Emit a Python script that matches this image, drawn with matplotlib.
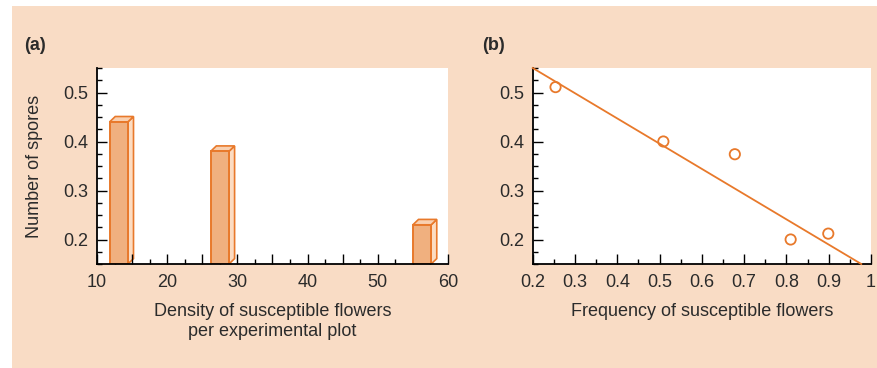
import matplotlib
matplotlib.use("Agg")
import matplotlib.pyplot as plt
from matplotlib.patches import Rectangle, Polygon
from matplotlib.ticker import MultipleLocator

plt.rcParams['font.family'] = ['Liberation Sans', 'DejaVu Sans']

# panel (a) data
density = [13.1, 27.5, 56.3]
spores_a = [0.44, 0.38, 0.23]
xticks_a = [10, 15, 20, 25, 30, 35, 40, 45, 50, 55, 60]
xlabels_a = ['10', '', '20', '', '30', '', '40', '', '50', '', '60']

# panel (b) data
frequency = [0.254, 0.509, 0.678, 0.81, 0.899]
spores_b = [0.511, 0.40, 0.374, 0.20, 0.212]
fit_x = [0.2, 0.977]
fit_y = [0.55, 0.15]
xticks_b = [0.2, 0.3, 0.4, 0.5, 0.6, 0.7, 0.8, 0.9, 1.0]
xlabels_b = ['0.2', '0.3', '0.4', '0.5', '0.6', '0.7', '0.8', '0.9', '1']

orange = '#E8792B'
face = '#F0B07F'
side = '#FCDCC2'
top = '#F9D0B0'
peach = '#F9DCC5'
txt = '#2b2b2b'
fs = 13

fig = plt.figure(figsize=(8.78, 3.68), dpi=100)
fig.patch.set_facecolor('white')
fig.patches.append(Rectangle((12 / 878, 0), 1, 1 - 6 / 368, transform=fig.transFigure,
                             facecolor=peach, edgecolor='none', zorder=-10))

ax1 = fig.add_axes([97 / 878, 1 - 264 / 368, 351 / 878, 196 / 368])
ax2 = fig.add_axes([532.7 / 878, 1 - 264 / 368, 338.3 / 878, 196 / 368])

for ax in (ax1, ax2):
    ax.set_facecolor('white')
    ax.spines['top'].set_visible(False)
    ax.spines['right'].set_visible(False)
    ax.spines['left'].set_linewidth(1.3)
    ax.spines['bottom'].set_linewidth(1.3)
    ax.set_ylim(0.15, 0.55)
    ax.set_yticks([0.2, 0.3, 0.4, 0.5], labels=['0.2', '0.3', '0.4', '0.5'])
    ax.yaxis.set_minor_locator(MultipleLocator(0.025))
    ax.tick_params(which='major', direction='in', length=7.5, width=1, colors='black',
                   labelsize=fs, labelcolor=txt, pad=6)
    ax.tick_params(which='minor', direction='in', length=3.5, width=1, colors='black')
    ax.tick_params(axis='x', which='major', pad=7)

# (a) pseudo-3D bars
w = 2.6
ddx, ddy = 0.8, 0.011
ax1.set_xlim(10, 60)
ax1.set_xticks(xticks_a, labels=xlabels_a)
ax1.xaxis.set_minor_locator(MultipleLocator(2.5))
for xc, h in zip(density, spores_a):
    x0, x1 = xc - w / 2, xc + w / 2
    ax1.add_patch(Polygon([(x1, 0.15), (x1 + ddx, 0.15 + ddy), (x1 + ddx, h + ddy), (x1, h)],
                          closed=True, facecolor=side, edgecolor=orange, lw=1.2, zorder=1.5))
    ax1.add_patch(Polygon([(x0, h), (x0 + ddx, h + ddy), (x1 + ddx, h + ddy), (x1, h)],
                          closed=True, facecolor=top, edgecolor=orange, lw=1.2, zorder=1.5))
    ax1.bar(xc, h - 0.15, bottom=0.15, width=w, color=face, edgecolor=orange, lw=1.4, zorder=1.6)

ax1.set_xlabel('Density of susceptible flowers\nper experimental plot', fontsize=fs,
               color=txt, labelpad=9, linespacing=1.2)
ax1.set_ylabel('Number of spores', fontsize=fs, color=txt, labelpad=15)

# (b) scatter + fitted line
ax2.set_xlim(0.2, 1.0)
ax2.set_xticks(xticks_b, labels=xlabels_b)
ax2.xaxis.set_minor_locator(MultipleLocator(0.05))
ax2.plot(fit_x, fit_y, color=orange, lw=1.3, zorder=3, clip_on=False)
ax2.scatter(frequency, spores_b, s=55, facecolor='none', edgecolor=orange, lw=1.3, zorder=4)
ax2.set_xlabel('Frequency of susceptible flowers', fontsize=fs, color=txt, labelpad=9)

fig.text(24 / 878, 1 - 46 / 368, '(a)', fontsize=fs, fontweight='bold', color=txt, va='center')
fig.text(482 / 878, 1 - 46 / 368, '(b)', fontsize=fs, fontweight='bold', color=txt, va='center')

fig.savefig('out.png', dpi=100)
